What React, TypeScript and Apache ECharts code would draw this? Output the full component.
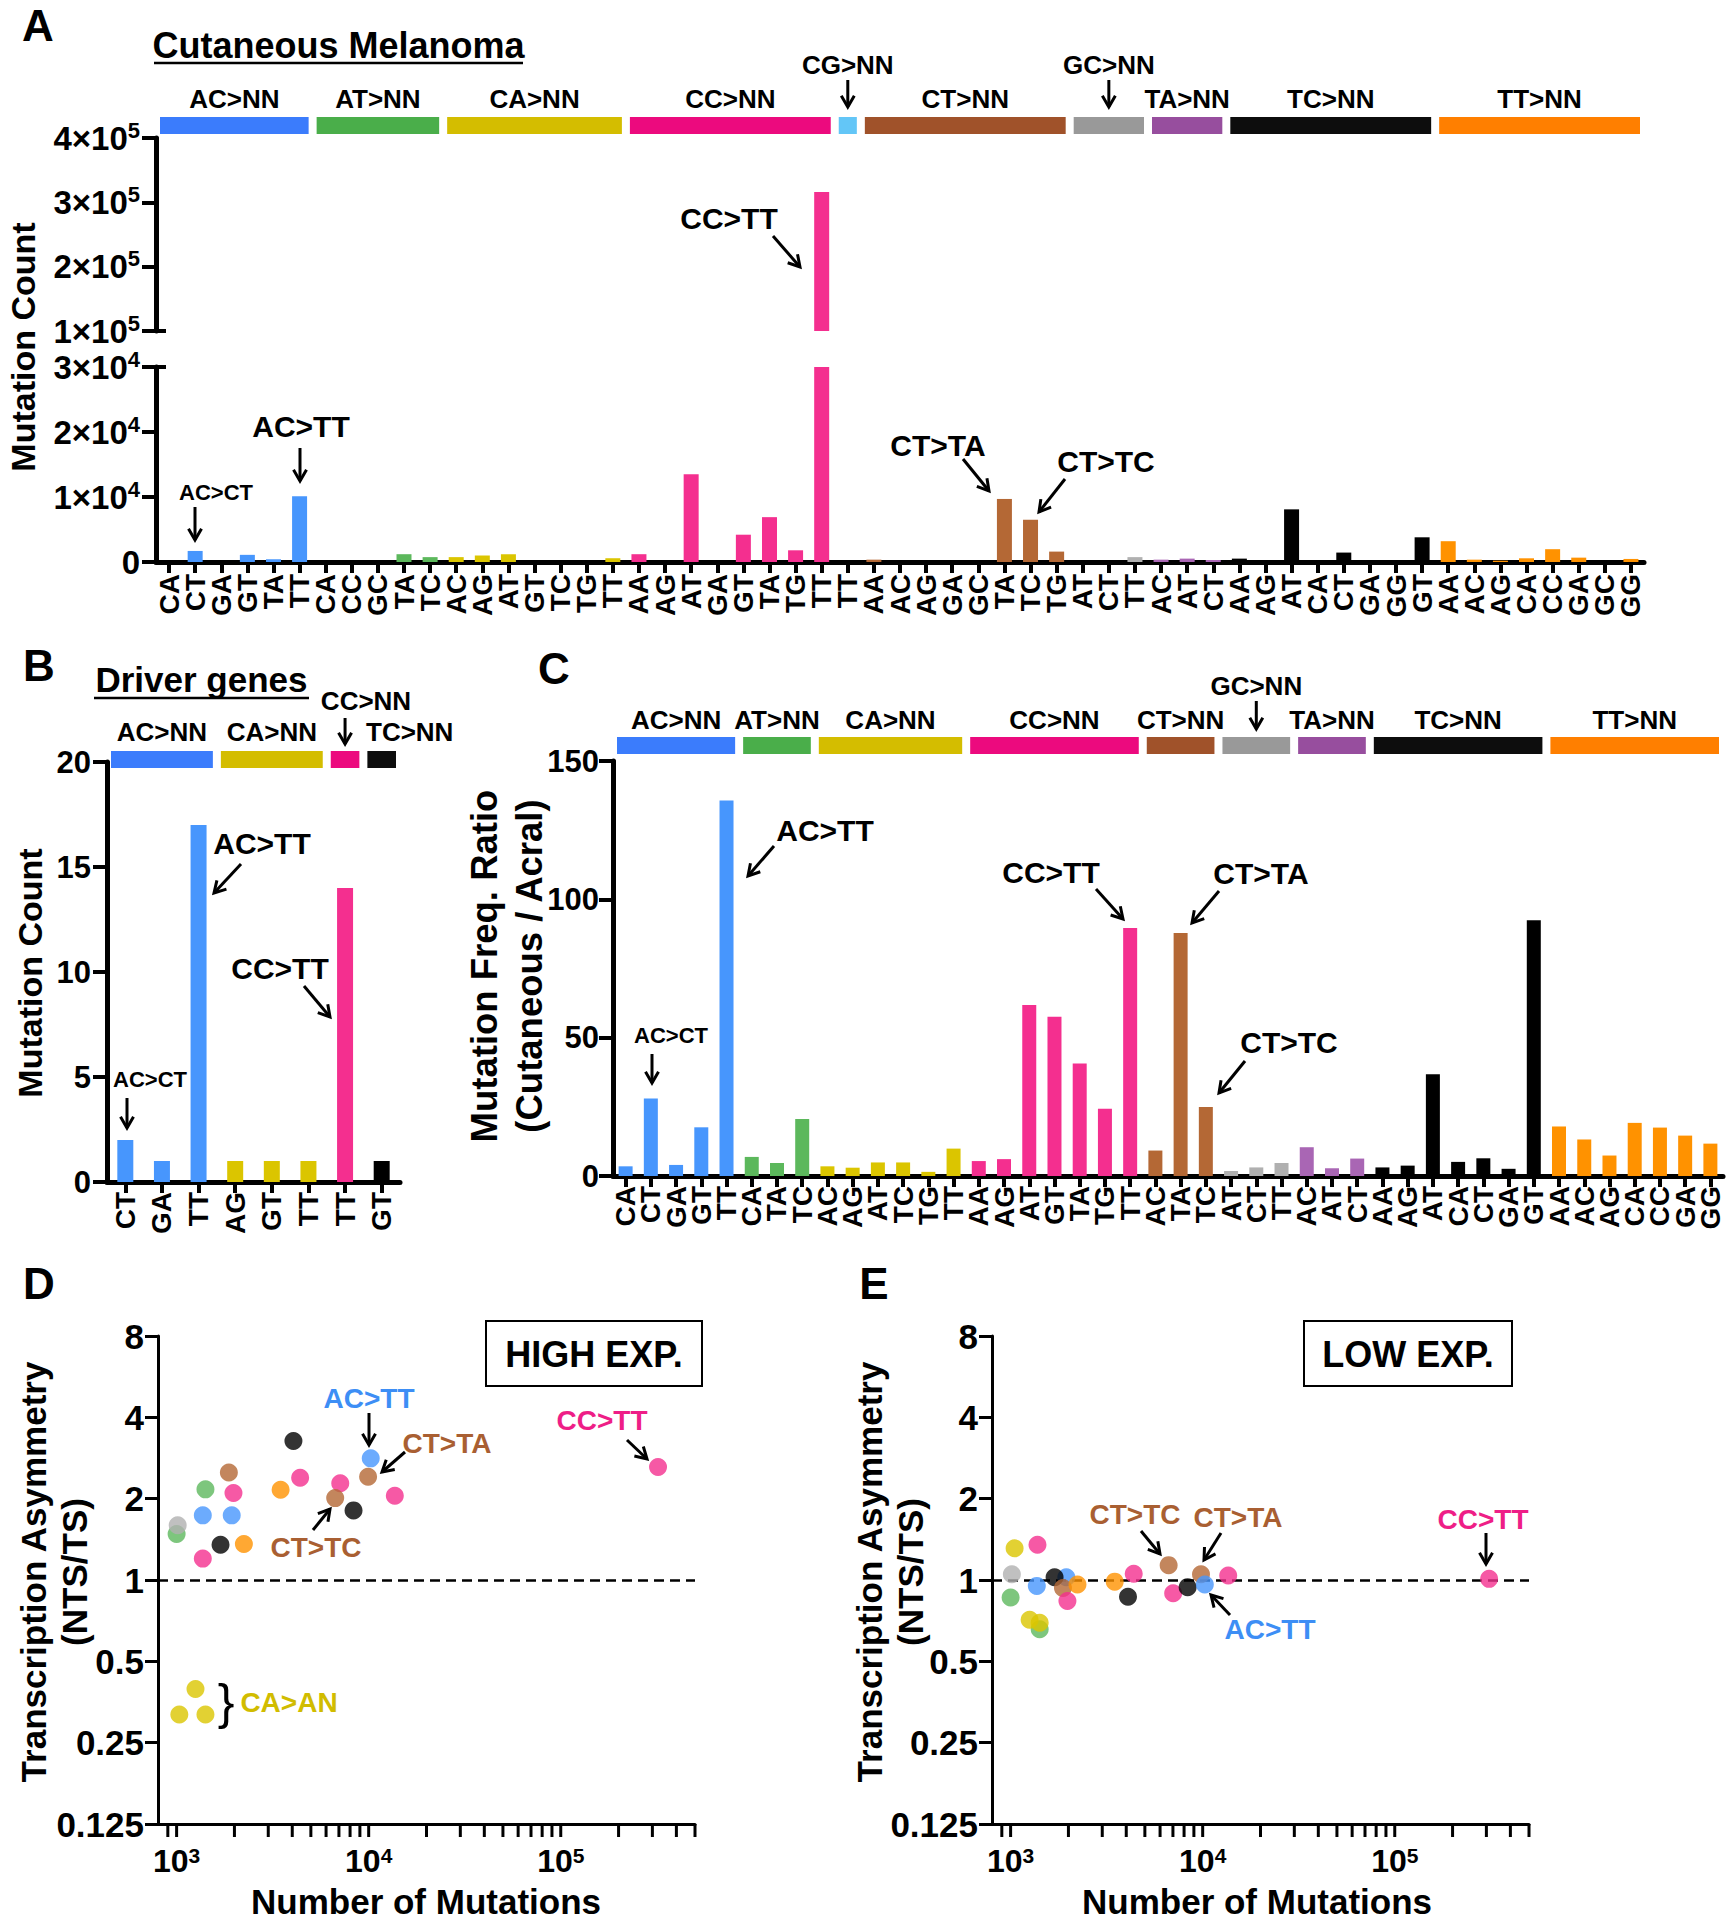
import React, { useEffect, useRef } from "react";
import * as echarts from "echarts";

const FONT = "'Liberation Sans', Arial, Helvetica, sans-serif";

// ---------------- Panel A : Cutaneous Melanoma ----------------
const aGroupNames = ["AC>NN", "AT>NN", "CA>NN", "CC>NN", "CG>NN", "CT>NN", "GC>NN", "TA>NN", "TC>NN", "TT>NN"];
const aGroupSizes = [6, 5, 7, 8, 1, 8, 3, 3, 8, 8];
const aCategories = [
  "CA", "CT", "GA", "GT", "TA", "TT",
  "CA", "CC", "GC", "TA", "TC",
  "AC", "AG", "AT", "GT", "TC", "TG", "TT",
  "AA", "AG", "AT", "GA", "GT", "TA", "TG", "TT",
  "TT",
  "AA", "AC", "AG", "GA", "GC", "TA", "TC", "TG",
  "AT", "CT", "TT",
  "AC", "AT", "CT",
  "AA", "AG", "AT", "CA", "CT", "GA", "GG", "GT",
  "AA", "AC", "AG", "CA", "CC", "GA", "GC", "GG",
];
const aCounts = [
  0, 1700, 0, 1100, 420, 10100,
  0, 0, 0, 1200, 750,
  750, 1000, 1200, 0, 0, 0, 580,
  1200, 0, 13500, 0, 4200, 6900, 1800, 316000,
  0,
  360, 0, 0, 0, 0, 9700, 6500, 1600,
  0, 0, 750,
  360, 520, 310,
  520, 0, 8100, 0, 1450, 0, 0, 3800,
  3200, 360, 200, 570, 1970, 670, 0, 470,
];

// ---------------- Panel B : Driver genes ----------------
const bGroupNames = ["AC>NN", "CA>NN", "CC>NN", "TC>NN"];
const bGroupSizes = [3, 3, 1, 1];
const bCategories = ["CT", "GA", "TT", "AG", "GT", "TT", "TT", "GT"];
const bCounts = [2, 1, 17, 1, 1, 1, 14, 1];

// ---------------- Panel C : ratio ----------------
const cGroupNames = ["AC>NN", "AT>NN", "CA>NN", "CC>NN", "CT>NN", "GC>NN", "TA>NN", "TC>NN", "TT>NN"];
const cGroupSizes = [5, 3, 6, 7, 3, 3, 3, 7, 7];
const cCategories = [
  "CA", "CT", "GA", "GT", "TT",
  "CA", "TA", "TC",
  "AC", "AG", "AT", "TC", "TG", "TT",
  "AA", "AG", "AT", "GT", "TA", "TG", "TT",
  "AC", "TA", "TC",
  "AT", "CT", "TT",
  "AC", "AT", "CT",
  "AA", "AG", "AT", "CA", "CT", "GA", "GT",
  "AA", "AC", "AG", "CA", "CC", "GA", "GG",
];
const cRatios = [
  3.5, 28, 4, 17.6, 135.7,
  6.9, 4.7, 20.6,
  3.5, 3, 4.9, 4.9, 1.5, 9.9,
  5.4, 6.1, 61.8, 57.6, 40.7, 24.3, 89.6,
  9.2, 87.8, 24.9,
  1.8, 3.1, 4.7,
  10.4, 2.8, 6.3,
  3.1, 3.75, 36.8, 5.1, 6.4, 2.6, 92.4,
  17.9, 13.2, 7.4, 19.2, 17.5, 14.6, 11.7,
];

// ---------------- Panel D : HIGH EXP. ----------------
const dGroups = [
  "AT>NN", "GC>NN", "AT>NN", "AC>NN", "CC>NN", "CT>NN", "CC>NN", "AC>NN", "TC>NN", "TT>NN",
  "TT>NN", "TC>NN", "CC>NN", "CC>NN", "CT>NN", "TC>NN", "AC>NN", "CT>NN", "CC>NN", "CC>NN",
  "CA>NN", "CA>NN", "CA>NN",
];
const dCounts = [
  1000, 1013, 1413, 1369, 1369, 1871, 1977, 1936, 1693, 2240,
  3479, 4057, 4397, 7112, 6693, 8340, 10250, 9930, 13680, 321000,
  1254, 1033, 1413,
];
const dRatios = [
  1.48, 1.594, 2.165, 1.735, 1.2, 2.5, 2.1, 1.735, 1.35, 1.36,
  2.157, 3.27, 2.39, 2.28, 2.01, 1.81, 2.82, 2.41, 2.05, 2.62,
  0.395, 0.318, 0.318,
];

// ---------------- Panel E : LOW EXP. ----------------
const eGroups = [
  "CA>NN", "CC>NN", "AT>NN", "GC>NN", "AC>NN", "AC>NN", "TC>NN", "CT>NN", "CC>NN", "TT>NN",
  "AT>NN", "CA>NN", "CA>NN", "TT>NN", "CC>NN", "TC>NN", "CT>NN", "CC>NN", "TC>NN", "CT>NN",
  "AC>NN", "CC>NN", "CC>NN",
];
const eCounts = [
  1049, 1380, 1000, 1015, 1950, 1369, 1694, 1873, 1976, 2229,
  1417, 1256, 1417, 3483, 4375, 4085, 6650, 7020, 8350, 9800,
  10260, 13580, 310000,
];
const eRatios = [
  1.31, 1.35, 0.861, 1.05, 1.024, 0.951, 1.024, 0.934, 0.836, 0.962,
  0.657, 0.713, 0.695, 0.986, 1.054, 0.867, 1.135, 0.893, 0.941, 1.05,
  0.962, 1.039, 1.01,
];

// tick positions of the logarithmic x axes (major + minor)
const logTicks = [
  900,
  1000, 2000, 3000, 4000, 5000, 6000, 7000, 8000, 9000,
  10000, 20000, 30000, 40000, 50000, 60000, 70000, 80000, 90000,
  100000, 200000, 300000, 400000, 500000,
];

// ---------------- colours ----------------
const headerColor: Record<string, string> = {
  "AC>NN": "#3b7cfc", "AT>NN": "#4aae4a", "CA>NN": "#d4bd00", "CC>NN": "#ec0a7e", "CG>NN": "#63c6f7",
  "CT>NN": "#a0522a", "GC>NN": "#999999", "TA>NN": "#974e9e", "TC>NN": "#0d0d0d", "TT>NN": "#ff7f00",
};
const barColor: Record<string, string> = {
  "AC>NN": "#4796fd", "AT>NN": "#5cb85c", "CA>NN": "#dbc500", "CC>NN": "#f42f8f", "CG>NN": "#63c6f7",
  "CT>NN": "#b46835", "GC>NN": "#b0b0b0", "TA>NN": "#a966b4", "TC>NN": "#000000", "TT>NN": "#ff9200",
};

// ---------------- geometry ----------------
const GA = { left: 156, width: 1488, upTop: 138, upH: 193, loTop: 367, loH: 195 };
const GB = { left: 107, top: 762, width: 293, height: 420 };
const GCc = { left: 613, top: 761, width: 1110, height: 415 };
const GD = { left: 158, top: 1336, width: 537, height: 488 };
const GE = { left: 992, top: 1336, width: 537, height: 488 };

function groupIndexOf(sizes: number[]) {
  const out: number[] = [];
  sizes.forEach((s, gi) => { for (let k = 0; k < s; k++) out.push(gi); });
  return out;
}

function barData(values: number[], names: string[], sizes: number[]) {
  const gi = groupIndexOf(sizes);
  return values.map((v, i) => ({ value: v, itemStyle: { color: barColor[names[gi[i]]] } }));
}

function dotData(xs: number[], ys: number[], groups: string[]) {
  return xs.map((x, i) => ({ value: [x, ys[i]], itemStyle: { color: barColor[groups[i]] } }));
}

function T(x: number, y: number, text: string, size: number, color = "#000", extra: any = {}) {
  const align = extra.align || "center";
  return {
    type: "text", x, y, rotation: extra.rotation || 0, z: 20,
    style: {
      text, fontSize: size, fontWeight: extra.weight || "bold", fontFamily: FONT, fill: color,
      textAlign: align, align, textVerticalAlign: "middle", verticalAlign: "middle",
    },
  };
}

function arrow(x1: number, y1: number, x2: number, y2: number, color = "#000", w = 3, head = 13) {
  const ang = Math.atan2(y2 - y1, x2 - x1);
  const a = Math.PI / 6;
  const h1 = [x2 - head * Math.cos(ang - a), y2 - head * Math.sin(ang - a)];
  const h2 = [x2 - head * Math.cos(ang + a), y2 - head * Math.sin(ang + a)];
  return [
    { type: "line", z: 20, shape: { x1, y1, x2, y2 }, style: { stroke: color, lineWidth: w } },
    { type: "polyline", z: 20, shape: { points: [h1, [x2, y2], h2] }, style: { stroke: color, lineWidth: w, fill: null } },
  ];
}

function line(x1: number, y1: number, x2: number, y2: number, w = 3) {
  return { type: "line", z: 20, shape: { x1, y1, x2, y2 }, style: { stroke: "#000", lineWidth: w } };
}

function headers(names: string[], sizes: number[], left: number, width: number, barY: number, barH: number,
  labelY: number, arrowLabelY: number, arrowY0: number, arrowY1: number, specials: Record<string, any>) {
  const n = sizes.reduce((p, q) => p + q, 0);
  const band = width / n;
  let s = 0;
  const out: any[] = [];
  names.forEach((name, i) => {
    const e = s + sizes[i];
    const x0 = left + s * band + 4;
    const x1 = left + e * band - 4;
    const cx = (x0 + x1) / 2;
    out.push({ type: "rect", z: 5, shape: { x: x0, y: barY, width: x1 - x0, height: barH }, style: { fill: headerColor[name] } });
    const sp = specials[name];
    if (sp && sp.arrow) {
      out.push(T(sp.labelX != null ? sp.labelX : cx, arrowLabelY, name, 26));
      out.push(...arrow(cx, arrowY0, cx, arrowY1));
    } else if (sp && sp.leftX != null) {
      out.push(T(sp.leftX, labelY, name, 26, "#000", { align: "left" }));
    } else {
      out.push(T(cx, labelY, name, 26));
    }
    s = e;
  });
  return out;
}

const richNum = {
  n: { fontSize: 33, fontWeight: "bold", fontFamily: FONT, color: "#000", lineHeight: 38 },
  s: { fontSize: 22, fontWeight: "bold", fontFamily: FONT, color: "#000", lineHeight: 22, verticalAlign: "top" },
};
const richPow = {
  n: { fontSize: 32, fontWeight: "bold", fontFamily: FONT, color: "#000", lineHeight: 32 },
  s: { fontSize: 21, fontWeight: "bold", fontFamily: FONT, color: "#000", lineHeight: 21, verticalAlign: "top" },
};
const richLogY = {
  n: { fontSize: 35, fontWeight: "bold", fontFamily: FONT, color: "#000", lineHeight: 38 },
};

function sciLabel(exp: number) {
  return (v: number) => (v === 0 ? "{n|0}" : `{n|${Math.round(v / Math.pow(10, exp))}×10}{s|${exp}}`);
}

function pow10Label(v: number) {
  const e = Math.log10(v);
  const r = Math.round(e);
  return Math.abs(e - r) < 1e-6 ? `{n|10}{s|${r}}` : "";
}

const catXAxis = (gridIndex: number, data: string[], fontSize: number, margin: number) => ({
  type: "category", gridIndex, data,
  axisLine: { show: true, lineStyle: { color: "#000", width: 5 } },
  axisTick: { show: true, alignWithLabel: true, length: 11, lineStyle: { color: "#000", width: 4 } },
  axisLabel: { interval: 0, rotate: 90, fontSize, fontWeight: "bold", fontFamily: FONT, color: "#000", margin },
  splitLine: { show: false },
});

const valYAxis = (gridIndex: number, min: number, max: number, interval: number, labelOpt: any) => ({
  type: "value", gridIndex, min, max, interval,
  axisLine: { show: true, lineStyle: { color: "#000", width: 5 } },
  axisTick: { show: true, length: 14, lineStyle: { color: "#000", width: 4 } },
  splitLine: { show: false },
  axisLabel: { fontSize: 31, fontWeight: "bold", fontFamily: FONT, color: "#000", margin: 16, ...labelOpt },
});

const logXAxis = (gridIndex: number) => ({
  type: "log", gridIndex, logBase: 10, min: 800, max: 500000,
  axisLine: { show: true, lineStyle: { color: "#000", width: 3 } },
  axisTick: { show: false },
  splitLine: { show: false },
  minorTick: { show: false },
  axisLabel: { formatter: pow10Label, rich: richPow, margin: 21 },
});

const logYAxis = (gridIndex: number) => ({
  type: "log", gridIndex, logBase: 2, min: 0.125, max: 8, splitNumber: 6,
  axisLine: { show: true, lineStyle: { color: "#000", width: 3 } },
  axisTick: { show: true, length: 13, lineStyle: { color: "#000", width: 3 } },
  splitLine: { show: false },
  axisLabel: {
    margin: 14, rich: richLogY,
    formatter: (v: number) => `{n|${String(parseFloat(Number(v).toPrecision(4)))}}`,
  },
});

const tickSeries = (idx: number) => ({
  type: "custom", xAxisIndex: idx, yAxisIndex: idx, clip: false, silent: true, z: 3,
  data: logTicks.map((v) => [v, 0.125]),
  renderItem: (_p: any, api: any) => {
    const p = api.coord([api.value(0), api.value(1)]);
    return { type: "line", shape: { x1: p[0], y1: p[1], x2: p[0], y2: p[1] + 13 }, style: { stroke: "#000", lineWidth: 3 } };
  },
});

const dashed = {
  silent: true, symbol: ["none", "none"],
  label: { show: false },
  lineStyle: { color: "#000", type: [10, 6], width: 2.5 },
  data: [{ yAxis: 1 }],
};

function buildOption() {
  const BLUE = "#3d8ef5", BROWN = "#a95f32", PINK = "#ee1e87", YEL = "#d1bc00";
  const R = Math.PI / 2;
  const graphic: any[] = [
    // panel letters
    T(38, 25, "A", 44), T(39, 665, "B", 44), T(554, 668, "C", 44), T(39, 1283, "D", 44), T(874, 1283, "E", 44),
    // Panel A
    T(338.5, 45, "Cutaneous Melanoma", 36), line(154, 63, 523, 63, 2.5),
    ...headers(aGroupNames, aGroupSizes, GA.left, GA.width, 117, 17, 99, 65, 80, 107,
      { "CG>NN": { arrow: true }, "GC>NN": { arrow: true } }),
    T(23, 347, "Mutation Count", 34, "#000", { rotation: R }),
    line(155, 331, 166, 331, 4), line(155, 367, 166, 367, 4),
    T(216, 492, "AC>CT", 22), ...arrow(195, 507, 195, 540),
    T(301, 426, "AC>TT", 30), ...arrow(300, 448, 300, 481),
    T(729, 218, "CC>TT", 30), ...arrow(773, 236, 800, 267),
    T(938, 445, "CT>TA", 30), ...arrow(963, 459, 989, 491),
    T(1106, 461, "CT>TC", 30), ...arrow(1065, 479, 1039, 512),
    // Panel B
    T(201.5, 679, "Driver genes", 35), line(94, 698, 309, 698, 2.5),
    ...headers(bGroupNames, bGroupSizes, GB.left, GB.width, 751, 17, 732, 701, 718, 744,
      { "CC>NN": { arrow: true, labelX: 366 }, "TC>NN": { leftX: 366 } }),
    T(30, 973, "Mutation Count", 34, "#000", { rotation: R }),
    T(150, 1079, "AC>CT", 22), ...arrow(127, 1098, 127, 1128),
    T(262, 843, "AC>TT", 30), ...arrow(241, 864, 214, 893),
    T(280, 968, "CC>TT", 30), ...arrow(304, 986, 330, 1017),
    // Panel C
    ...headers(cGroupNames, cGroupSizes, GCc.left, GCc.width, 737, 17, 720, 686, 701, 729, { "GC>NN": { arrow: true } }),
    T(484, 966, "Mutation Freq. Ratio", 36.5, "#000", { rotation: R }),
    T(529, 966, "(Cutaneous / Acral)", 36.5, "#000", { rotation: R }),
    T(671, 1035, "AC>CT", 22), ...arrow(652, 1054, 652, 1083),
    T(825, 830, "AC>TT", 30), ...arrow(774, 846, 748, 876),
    T(1051, 872, "CC>TT", 30), ...arrow(1096, 889, 1123, 919),
    T(1261, 873, "CT>TA", 30), ...arrow(1219, 891, 1192, 923),
    T(1289, 1042, "CT>TC", 30), ...arrow(1245, 1061, 1219, 1093),
    // Panel D
    { type: "rect", z: 15, shape: { x: 486, y: 1321, width: 216, height: 65 }, style: { fill: "#fff", stroke: "#000", lineWidth: 2 } },
    T(594, 1354, "HIGH EXP.", 36),
    T(369, 1398, "AC>TT", 28, BLUE), ...arrow(369, 1413, 369, 1445),
    T(447, 1443, "CT>TA", 28, BROWN), ...arrow(405, 1452, 382, 1472),
    T(602, 1420, "CC>TT", 28, PINK), ...arrow(627, 1440, 647, 1459),
    T(316, 1547, "CT>TC", 28, BROWN), ...arrow(313, 1530, 330, 1509),
    T(226, 1702, "}", 50, "#000", { weight: "normal" }),
    T(289, 1702, "CA>AN", 28, YEL),
    T(33, 1572, "Transcription Asymmetry", 35, "#000", { rotation: R }),
    T(74, 1572, "(NTS/TS)", 35, "#000", { rotation: R }),
    T(426, 1901, "Number of Mutations", 35),
    // Panel E
    { type: "rect", z: 15, shape: { x: 1304, y: 1321, width: 208, height: 65 }, style: { fill: "#fff", stroke: "#000", lineWidth: 2 } },
    T(1408, 1354, "LOW EXP.", 36),
    T(1135, 1514, "CT>TC", 28, BROWN), ...arrow(1141, 1531, 1160, 1554),
    T(1238, 1517, "CT>TA", 28, BROWN), ...arrow(1221, 1533, 1204, 1560),
    T(1483, 1519, "CC>TT", 28, PINK), ...arrow(1486, 1533, 1486, 1564),
    T(1270, 1629, "AC>TT", 28, BLUE), ...arrow(1230, 1615, 1211, 1595),
    T(869, 1572, "Transcription Asymmetry", 35, "#000", { rotation: R }),
    T(910, 1572, "(NTS/TS)", 35, "#000", { rotation: R }),
    T(1257, 1901, "Number of Mutations", 35),
  ];

  const gridBase = { containLabel: false, outerBoundsMode: "none" };
  return {
    animation: false,
    backgroundColor: "#fff",
    textStyle: { fontFamily: FONT, fontWeight: "bold", color: "#000" },
    grid: [
      { ...gridBase, left: GA.left, top: GA.loTop, width: GA.width, height: GA.loH },
      { ...gridBase, left: GA.left, top: GA.upTop, width: GA.width, height: GA.upH },
      { ...gridBase, left: GB.left, top: GB.top, width: GB.width, height: GB.height },
      { ...gridBase, left: GCc.left, top: GCc.top, width: GCc.width, height: GCc.height },
      { ...gridBase, left: GD.left, top: GD.top, width: GD.width, height: GD.height },
      { ...gridBase, left: GE.left, top: GE.top, width: GE.width, height: GE.height },
    ],
    xAxis: [
      catXAxis(0, aCategories, 28, 12),
      { type: "category", gridIndex: 1, data: aCategories, show: false },
      catXAxis(2, bCategories, 28, 10),
      catXAxis(3, cCategories, 28, 10),
      logXAxis(4),
      logXAxis(5),
    ],
    yAxis: [
      valYAxis(0, 0, 30000, 10000, { formatter: sciLabel(4), rich: richNum }),
      valYAxis(1, 100000, 400000, 100000, { formatter: sciLabel(5), rich: richNum }),
      valYAxis(2, 0, 20, 5, {}),
      valYAxis(3, 0, 150, 50, { margin: 14 }),
      logYAxis(4),
      logYAxis(5),
    ],
    series: [
      { type: "bar", xAxisIndex: 0, yAxisIndex: 0, barWidth: 15, data: barData(aCounts, aGroupNames, aGroupSizes) },
      { type: "bar", xAxisIndex: 1, yAxisIndex: 1, barWidth: 15, clip: true, data: barData(aCounts, aGroupNames, aGroupSizes) },
      { type: "bar", xAxisIndex: 2, yAxisIndex: 2, barWidth: 16, data: barData(bCounts, bGroupNames, bGroupSizes) },
      { type: "bar", xAxisIndex: 3, yAxisIndex: 3, barWidth: 14, data: barData(cRatios, cGroupNames, cGroupSizes) },
      { type: "scatter", xAxisIndex: 4, yAxisIndex: 4, symbolSize: 18, z: 5, data: dotData(dCounts, dRatios, dGroups), markLine: dashed },
      tickSeries(4),
      { type: "scatter", xAxisIndex: 5, yAxisIndex: 5, symbolSize: 18, z: 5, data: dotData(eCounts, eRatios, eGroups), markLine: dashed },
      tickSeries(5),
    ],
    graphic,
  };
}

export default function App() {
  const ref = useRef<HTMLDivElement>(null);
  useEffect(() => {
    document.body.style.margin = "0";
    const chart = echarts.init(ref.current as HTMLDivElement, null, { renderer: "svg" });
    chart.setOption(buildOption() as any);
    return () => chart.dispose();
  }, []);
  return (
    <div
      ref={ref}
      style={{ width: 1732, height: 1920, position: "absolute", left: 0, top: 0, background: "#fff" }}
    />
  );
}
